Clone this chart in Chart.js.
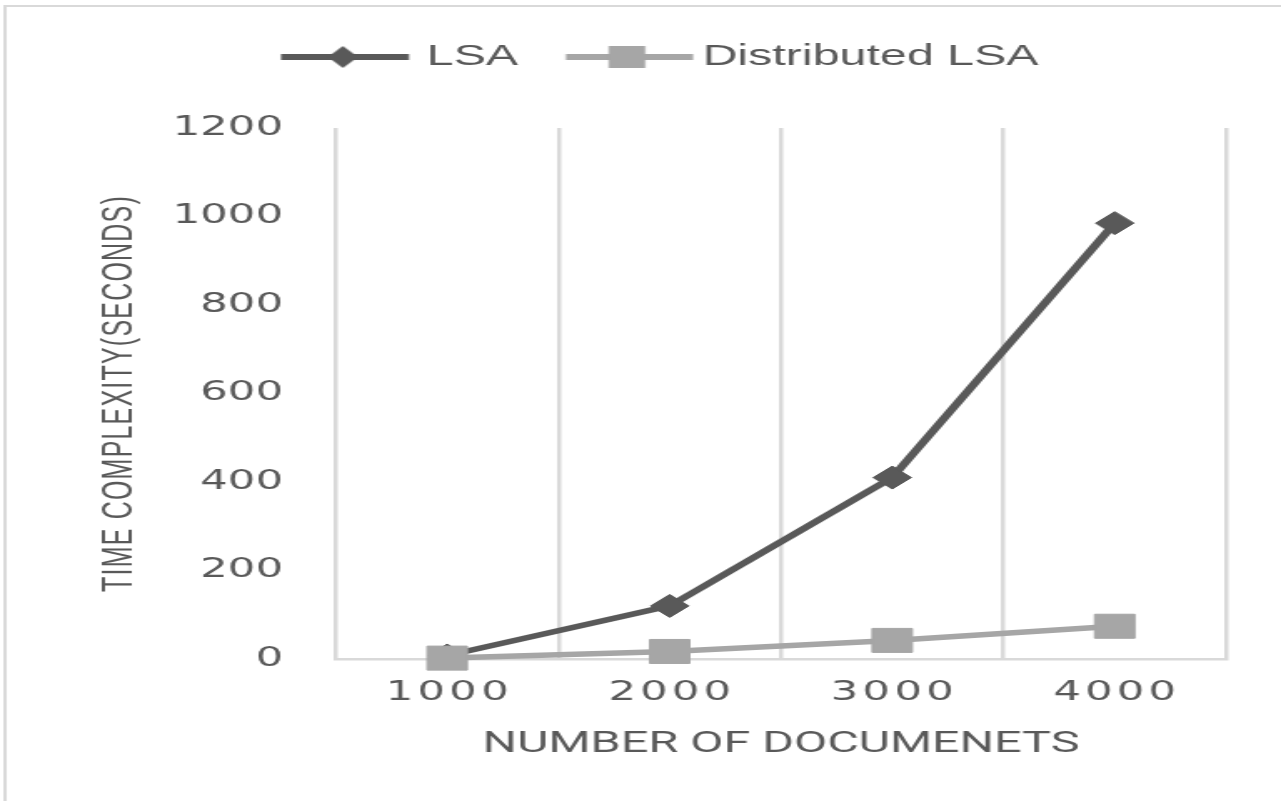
<!DOCTYPE html>
<html>
<head>
<meta charset="utf-8">
<script src="https://cdn.jsdelivr.net/npm/chart.js@4"></script>
<style>
  html, body { margin: 0; padding: 0; background: #ffffff; overflow: hidden; }
  /* the chart is laid out on a narrow canvas and shown stretched across the page */
  #chart { display: block; width: 1281px !important; height: 801px !important; }
</style>
</head>
<body>
<canvas id="chart" width="768" height="801"></canvas>
<script>
// ---- data ----
const categories = ['1000', '2000', '3000', '4000'];
const lsaSeconds = [8, 120, 410, 985];
const distributedSeconds = [2, 17, 42, 74];
const yTicks = [0, 200, 400, 600, 800, 1000, 1200];
const seriesNames = ['LSA', 'Distributed LSA'];
const xTitle = 'NUMBER OF DOCUMENETS';
const yTitle = 'TIME COMPLEXITY(SECONDS)';

// ---- styling ----
const TEXT = '#595959';
const GRID = '#d9d9d9';
const DARK = '#595959';
const LIGHT = '#a6a6a6';

Chart.defaults.font.family = "'Liberation Sans', Arial, sans-serif";
Chart.defaults.color = TEXT;

// legend swatch: a short line with the series marker on it
function swatch(color, lineFrom, lineTo, markerX, marker) {
  const c = document.createElement('canvas');
  c.width = 160; c.height = 32;
  const g = c.getContext('2d');
  const cx = c.width / 2, cy = c.height / 2;
  g.strokeStyle = color; g.fillStyle = color; g.lineWidth = 6;
  g.beginPath(); g.moveTo(cx + lineFrom, cy); g.lineTo(cx + lineTo, cy); g.stroke();
  const mx = cx + markerX;
  g.beginPath();
  if (marker === 'diamond') {
    g.moveTo(mx, cy - 11); g.lineTo(mx + 9, cy); g.lineTo(mx, cy + 11); g.lineTo(mx - 9, cy);
    g.closePath();
  } else {
    g.rect(mx - 11, cy - 11, 22, 22);
  }
  g.fill();
  return c;
}
const swatches = [
  swatch(DARK, -24.9, 51.8, 12.2, 'diamond'),
  swatch(LIGHT, -19.4, 56.8, 17.2, 'square')
];

// letter spacing for selected scale texts
function spaceText(scale, method, spacing, shift) {
  if (!scale || scale['_spaced_' + method]) return;
  const original = scale[method];
  scale[method] = function (...args) {
    const ctx = this.ctx;
    ctx.save();
    ctx.letterSpacing = spacing + 'px';
    ctx.translate(shift, 0);
    original.apply(this, args);
    ctx.restore();
  };
  scale['_spaced_' + method] = true;
}

const framePlugin = {
  id: 'frame',
  beforeInit(chart) {
    // empty band between the legend and the plot area
    Chart.layouts.addBox(chart, {
      position: 'top', weight: 0, fullSize: true, options: {},
      width: 0, height: 0,
      isHorizontal() { return true; },
      update(maxWidth) { this.width = maxWidth; this.height = 46.5; return {width: this.width, height: this.height}; },
      draw() {}
    });
  },
  beforeDraw(chart) {
    const ctx = chart.ctx;
    ctx.save();
    ctx.strokeStyle = GRID;
    ctx.lineWidth = 2;
    ctx.strokeRect(3, 6, chart.width + 20, chart.height + 20);
    ctx.restore();
    spaceText(chart.scales.x, 'drawLabels', 2.5, 1.25);
    spaceText(chart.scales.y, 'drawTitle', 1.2, 0);
  }
};

new Chart(document.getElementById('chart'), {
  type: 'line',
  data: {
    labels: categories,
    datasets: [
      {
        label: seriesNames[0],
        data: lsaSeconds,
        borderColor: DARK,
        backgroundColor: DARK,
        borderWidth: 5.5,
        pointStyle: 'rectRot',
        pointRadius: 11.5,
        pointBorderWidth: 1,
        tension: 0,
        clip: false,
        order: 1
      },
      {
        label: seriesNames[1],
        data: distributedSeconds,
        borderColor: LIGHT,
        backgroundColor: LIGHT,
        borderWidth: 5.5,
        pointStyle: 'rect',
        pointRadius: 17,
        pointBorderWidth: 1,
        tension: 0,
        clip: false,
        order: 0
      }
    ]
  },
  options: {
    responsive: false,
    devicePixelRatio: 1,
    animation: false,
    events: [],
    layout: { padding: { top: 42.5, left: 33, right: 33, bottom: 0 } },
    plugins: {
      tooltip: { enabled: false },
      legend: {
        position: 'top',
        align: 'center',
        labels: {
          usePointStyle: true,
          pointStyleWidth: 96,
          padding: 0,
          color: TEXT,
          font: { size: 29, family: "'Liberation Sans', Arial, sans-serif" },
          generateLabels(chart) {
            return chart.data.datasets.map((ds, i) => ({
              text: ds.label,
              pointStyle: swatches[i],
              fillStyle: ds.backgroundColor,
              strokeStyle: ds.borderColor,
              lineWidth: 0,
              hidden: !chart.isDatasetVisible(i),
              datasetIndex: i,
              fontColor: TEXT
            }));
          }
        }
      }
    },
    scales: {
      x: {
        type: 'category',
        offset: true,
        grid: { display: true, offset: true, color: GRID, lineWidth: 2.5, drawTicks: false },
        border: { display: true, color: GRID, width: 2.5 },
        ticks: {
          padding: 18.6,
          color: TEXT,
          font: { size: 26, family: "'DejaVu Sans', sans-serif" }
        },
        title: {
          display: true,
          text: xTitle,
          color: TEXT,
          font: { size: 29, family: "Roboto, 'Liberation Sans', sans-serif" },
          padding: { top: 0, bottom: 38.6 }
        },
        afterFit(scale) { scale.height = 142; }
      },
      y: {
        min: yTicks[0],
        max: yTicks[yTicks.length - 1],
        grid: { display: false, drawTicks: false },
        border: { display: false },
        afterBuildTicks(scale) { scale.ticks = yTicks.map(v => ({ value: v })); },
        ticks: {
          padding: 31.7,
          color: TEXT,
          font: { size: 26, family: "'DejaVu Sans', sans-serif" },
          callback: (value) => String(value)
        },
        title: {
          display: true,
          text: yTitle,
          color: TEXT,
          font: { size: 25, family: "'Liberation Sans', Arial, sans-serif" },
          padding: { top: 24.1, bottom: 0 }
        },
        afterFit(scale) { scale.width = 168.4; }
      }
    }
  },
  plugins: [framePlugin]
});
</script>
</body>
</html>
